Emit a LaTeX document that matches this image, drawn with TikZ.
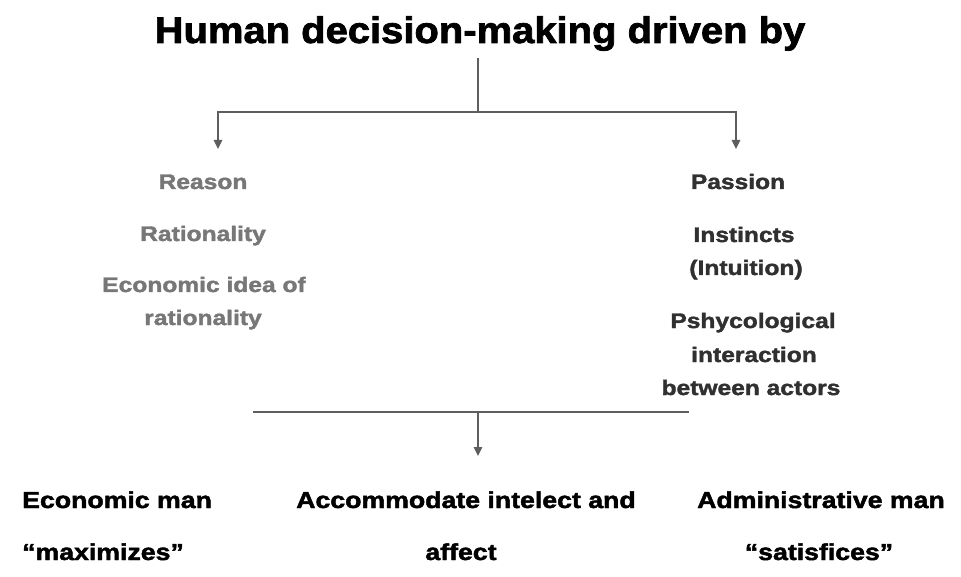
\documentclass[tikz,border=0pt]{standalone}
\usepackage{fontspec}
\setmainfont{Liberation Sans}
\newfontfamily\wfa{Liberation Sans Bold}[FakeStretch=1.08, FakeBold=2]
\newfontfamily\wfb{Liberation Sans Bold}[FakeStretch=1.17, FakeBold=1.8]
\newfontfamily\wfc{Liberation Sans Bold}[FakeStretch=1.16, FakeBold=2]
\usetikzlibrary{arrows.meta}
\definecolor{lightgraytext}{HTML}{777777}
\definecolor{darkgraytext}{HTML}{303030}
\definecolor{linegray}{HTML}{5E5E5E}
\tikzset{
  titletext/.style={anchor=base, inner sep=0pt, font=\wfa\fontsize{37}{40}\selectfont},
  leftitem/.style={anchor=base, inner sep=0pt, text=lightgraytext, font=\wfb\fontsize{21}{23}\selectfont},
  rightitem/.style={anchor=base, inner sep=0pt, text=darkgraytext, font=\wfb\fontsize{21}{23}\selectfont},
  bottomitem/.style={anchor=base, inner sep=0pt, text=black, font=\wfc\fontsize{23}{25}\selectfont},
  conn/.style={draw=linegray, line width=1.6pt},
  arr/.style={conn, -{Triangle[width=8.5pt,length=9pt]}}
}
\begin{document}
\begin{tikzpicture}[x=1pt,y=-1pt]
\useasboundingbox[fill=white] (0,0) rectangle (961,577);
\node[titletext] (title) at (480,43) {Human decision-making driven by};
% top connectors
\coordinate (ttop) at (478,58);
\coordinate (tj) at (478,112);
\coordinate (tl) at (218,112);
\coordinate (tr) at (736,112);
\coordinate (tla) at (218,149);
\coordinate (tra) at (736,149);
\draw[conn] (ttop) -- (tj);
\draw[arr] (tj) -- (tl) -- (tla);
\draw[arr] (tj) -- (tr) -- (tra);
% left column
\node[leftitem] (reason) at (203,189) {Reason};
\node[leftitem] (rat) at (203,241) {Rationality};
\node[leftitem] (eco1) at (204,292) {Economic idea of};
\node[leftitem] (eco2) at (203,325) {rationality};
% right column
\node[rightitem] (passion) at (738,189) {Passion};
\node[rightitem] (inst) at (744,242) {Instincts};
\node[rightitem] (intu) at (746,275) {(Intuition)};
\node[rightitem] (psy1) at (753,328) {Pshycological};
\node[rightitem] (psy2) at (754,362) {interaction};
\node[rightitem] (psy3) at (751,395) {between actors};
% bottom connectors
\coordinate (bl) at (253,412);
\coordinate (br) at (689,412);
\coordinate (bj) at (478,412);
\coordinate (ba) at (478,456);
\draw[conn] (bl) -- (br);
\draw[arr] (bj) -- (ba);
% bottom row
\node[bottomitem, anchor=base west] (econ1) at (22,508) {Economic man};
\node[bottomitem, anchor=base west] (econ2) at (22,560) {“maximizes”};
\node[bottomitem] (acc1) at (466,508) {Accommodate intelect and};
\node[bottomitem] (acc2) at (461,560) {affect};
\node[bottomitem] (adm1) at (821,508) {Administrative man};
\node[bottomitem] (adm2) at (819,560) {“satisfices”};
\end{tikzpicture}
\end{document}
